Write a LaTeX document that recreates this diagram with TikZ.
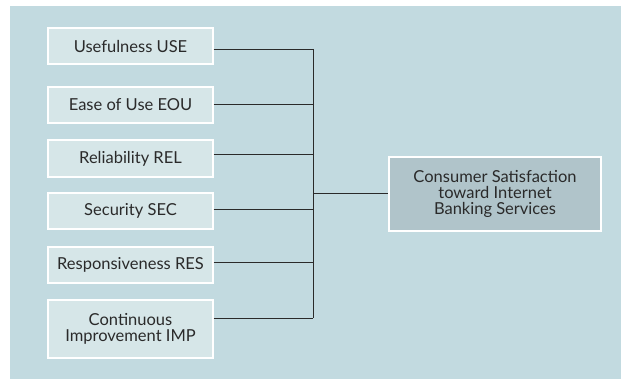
\documentclass[tikz,border=0pt]{standalone}
\usepackage{fontspec}
\setmainfont{Lato}
\definecolor{panel}{HTML}{C2DAE0}
\definecolor{factor}{HTML}{D6E6E8}
\definecolor{outcome}{HTML}{B0C4CA}
\definecolor{ink}{HTML}{2A2A2A}
\tikzset{
  factorbox/.style={draw=white, line width=1.2pt, fill=factor, minimum width=165pt,
    align=center, inner sep=0pt, font=\fontsize{16.5}{16.5}\selectfont, text=ink},
  outcomebox/.style={draw=white, line width=1.4pt, fill=outcome, minimum width=212pt,
    minimum height=74pt, align=center, inner sep=0pt, font=\fontsize{16.5}{16}\selectfont, text=ink},
  link/.style={draw=ink, line width=0.9pt}
}
\begin{document}
\begin{tikzpicture}[x=1pt, y=-1pt]
\useasboundingbox (0,0) rectangle (621,379);
\fill[panel] (10,6) rectangle (621,379);

% factor boxes
\node[factorbox, minimum height=36pt] (use) at (130.5,46) {Usefulness USE};
\node[factorbox, minimum height=36pt] (eou) at (130.5,105) {Ease of Use EOU};
\node[factorbox, minimum height=37pt] (rel) at (130.5,158.5) {Reliability REL};
\node[factorbox, minimum height=36pt] (sec) at (130.5,211) {Security SEC};
\node[factorbox, minimum height=36pt] (res) at (130.5,265) {Responsiveness RES};
\node[factorbox, minimum height=58pt] (imp) at (130.5,329) {Continuous\\Improvement IMP};

% outcome box
\node[outcomebox] (cs) at (495,194) {Consumer Satisfaction\\toward Internet\\Banking Services};

% connector bus
\coordinate (top) at (313,49);
\coordinate (bot) at (313,318);
\coordinate (mid) at (313,193);
\draw[link] ([yshift=-3pt]use.east) -- (top);
\draw[link] ([yshift=1pt]eou.east) -- ([yshift=1pt]eou.east -| top);
\draw[link] ([yshift=4pt]rel.east) -- ([yshift=4pt]rel.east -| top);
\draw[link] ([yshift=2pt]sec.east) -- ([yshift=2pt]sec.east -| top);
\draw[link] ([yshift=3pt]res.east) -- ([yshift=3pt]res.east -| top);
\draw[link] ([yshift=11pt]imp.east) -- (bot);
\draw[link] (top) -- (bot);
\draw[link] (mid) -- (mid -| cs.west);
\end{tikzpicture}
\end{document}
